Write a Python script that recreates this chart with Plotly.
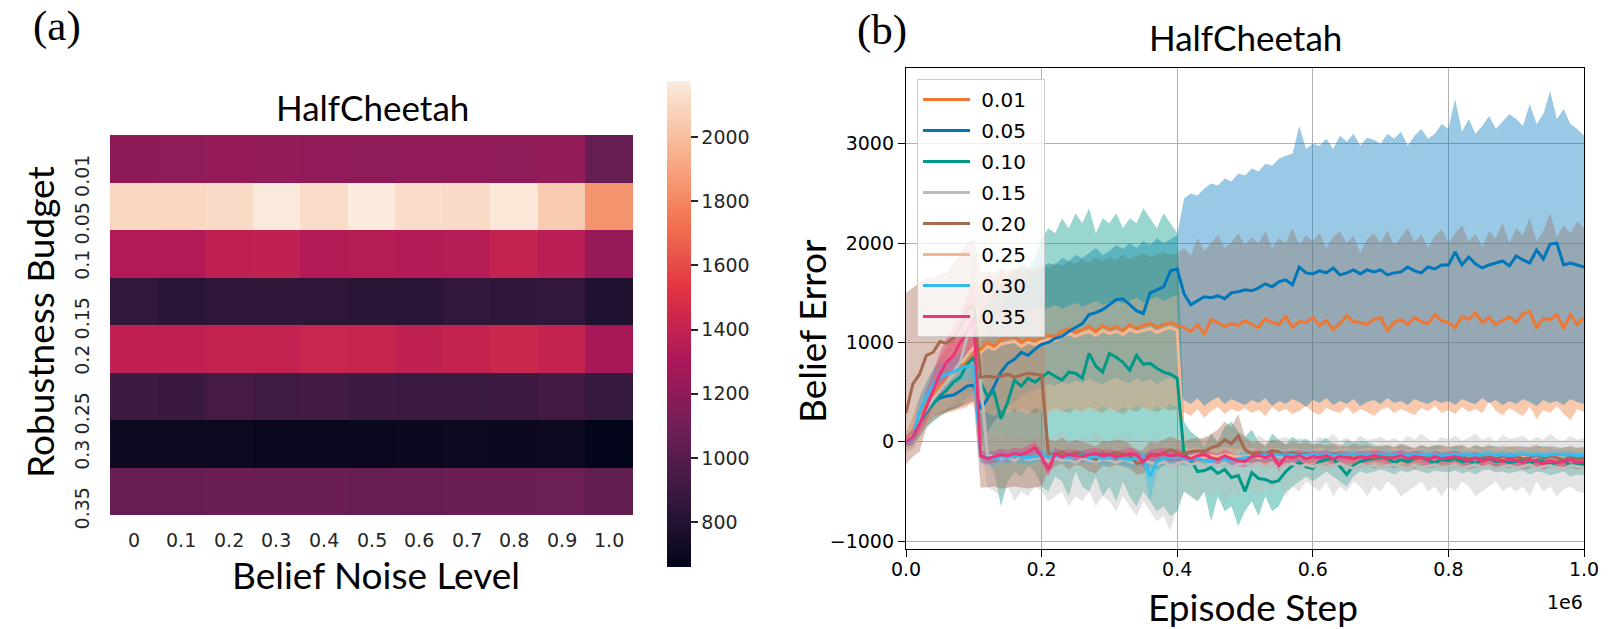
import plotly.graph_objects as go

# ---------------- Panel (a) data: heatmap ----------------
noise_levels = ["0", "0.1", "0.2", "0.3", "0.4", "0.5", "0.6", "0.7", "0.8", "0.9", "1.0"]
budgets = ["0.01", "0.05", "0.1", "0.15", "0.2", "0.25", "0.3", "0.35"]
heat_001 = [1200, 1205, 1220, 1215, 1210, 1205, 1210, 1210, 1205, 1215, 1060]
heat_005 = [2100, 2095, 2110, 2170, 2120, 2175, 2120, 2110, 2160, 2050, 1850]
heat_010 = [1330, 1330, 1380, 1385, 1340, 1345, 1340, 1345, 1400, 1360, 1230]
heat_015 = [860, 830, 855, 850, 850, 835, 830, 865, 850, 860, 790]
heat_020 = [1390, 1390, 1395, 1395, 1425, 1420, 1385, 1405, 1430, 1405, 1290]
heat_025 = [905, 890, 935, 915, 925, 905, 900, 895, 910, 925, 880]
heat_030 = [700, 700, 705, 690, 690, 690, 695, 700, 695, 705, 660]
heat_035 = [1065, 1065, 1070, 1070, 1070, 1060, 1065, 1070, 1070, 1080, 1045]
heat_rows = [heat_001, heat_005, heat_010, heat_015, heat_020, heat_025, heat_030, heat_035]
cbar_ticks = [800, 1000, 1200, 1400, 1600, 1800, 2000]

# ---------------- Panel (b) data: belief error curves ----------------
series_labels = ["0.01", "0.05", "0.10", "0.15", "0.20", "0.25", "0.30", "0.35"]
series_colors = ["#EE7733", "#0077BB", "#009988", "#BBBBBB", "#A5694F", "#F4B795", "#33BBEE", "#EE3377"]
steps = [i * 10000 for i in range(101)]
x_ticks = [0, 200000, 400000, 600000, 800000, 1000000]
x_tick_text = ["0.0", "0.2", "0.4", "0.6", "0.8", "1.0"]
y_ticks = [-1000, 0, 1000, 2000, 3000]
y_tick_text = ["\u22121000", "0", "1000", "2000", "3000"]

mean_001 = [0, 80, 250, 380, 470, 560, 620, 700, 760, 800,
            900, 930, 1000, 960, 1030, 1050, 1060, 1000, 1040, 1010,
            1050, 1070, 1060, 1110, 1140, 1100, 1130, 1160, 1110, 1170,
            1130, 1160, 1120, 1180, 1140, 1170, 1190, 1150, 1180, 1200,
            1170, 1150, 1110, 1180, 1080, 1230, 1200, 1160, 1190, 1170,
            1220, 1180, 1150, 1240, 1200, 1180, 1260, 1150, 1210, 1200,
            1250, 1170, 1220, 1130, 1190, 1270, 1210, 1200, 1180, 1230,
            1250, 1120, 1200, 1230, 1180, 1250, 1210, 1190, 1280, 1220,
            1200, 1150, 1260, 1230, 1300, 1200, 1250, 1180, 1220, 1260,
            1200, 1290, 1310, 1150, 1240, 1230, 1280, 1140, 1280, 1180, 1250]
low_001 = [-80, -60, 80, 160, 220, 260, 290, 310, 330, 350,
           420, 300, 280, 320, 290, 330, 300, 340, 310, 280,
           320, 300, 340, 310, 290, 330, 300, 350, 320, 290,
           340, 310, 280, 330, 300, 350, 320, 300, 340, 310,
           330, 300, 260, 330, 240, 310, 350, 280, 330, 300,
           340, 290, 320, 260, 350, 300, 330, 280, 310, 360,
           300, 270, 340, 310, 290, 350, 280, 330, 300, 260,
           320, 350, 290, 330, 300, 270, 340, 310, 360, 290,
           320, 280, 350, 300, 330, 290, 400, 310, 270, 340,
           300, 260, 350, 230, 320, 290, 360, 280, 220, 330, 300]
high_001 = [80, 250, 450, 600, 720, 850, 950, 1050, 1150, 1250,
            1500, 1600, 1700, 1650, 1720, 1680, 1750, 1700, 1760, 1720,
            1780, 1750, 1800, 1770, 1820, 1790, 1840, 1800, 1850, 1820,
            1860, 1830, 1880, 1840, 1870, 1900, 1860, 1890, 1910, 1880,
            1900, 1950, 1870, 2050, 1920, 2000, 2080, 1950, 2010, 2100,
            1980, 2060, 2000, 2120, 1950, 2050, 2000, 2150, 1980, 2080,
            2020, 2100, 1950, 2060, 2120, 2000, 2080, 1900, 2040, 2100,
            2000, 2130, 1980, 2060, 2150, 2010, 2090, 1950, 2070, 2140,
            2000, 2100, 2180, 2020, 2090, 1960, 2120, 2050, 2200, 2000,
            2150, 2080, 2250, 2020, 2120, 2300, 2060, 2180, 2100, 2220, 2150]

mean_005 = [0, 40, 200, 300, 390, 440, 460, 470, 510, 560,
            570, 330, 430, 560, 700, 790, 830, 900, 870, 930,
            980, 1000, 1040, 1060, 1110, 1150, 1190, 1280, 1300, 1330,
            1380, 1430, 1440, 1380, 1320, 1290, 1500, 1530, 1560, 1720,
            1740, 1490, 1380, 1420, 1460, 1450, 1470, 1440, 1500, 1510,
            1530, 1520, 1550, 1590, 1560, 1610, 1630, 1580, 1760, 1700,
            1690, 1720, 1700, 1750, 1680, 1700, 1730, 1690, 1730, 1710,
            1730, 1680, 1700, 1710, 1760, 1720, 1700, 1760, 1740, 1780,
            1780, 1910, 1780, 1860, 1790, 1750, 1780, 1800, 1820, 1770,
            1870, 1830, 1800, 1930, 1840, 1990, 2000, 1780, 1800, 1780, 1760]
low_005 = [-60, -40, 80, 170, 250, 300, 320, 330, 360, 400,
           400, 0, 100, 200, 280, 350, 400, 450, 500, 520,
           550, 580, 560, 600, 580, 620, 590, 640, 600, 580,
           620, 650, 610, 590, 640, 600, 630, 580, 620, 650,
           600, 420, 380, 440, 360, 410, 450, 380, 430, 400,
           370, 420, 390, 440, 360, 410, 380, 430, 400, 350,
           420, 390, 440, 370, 410, 380, 430, 360, 400, 420,
           380, 440, 390, 410, 370, 430, 400, 380, 420, 390,
           410, 370, 430, 400, 380, 440, 390, 420, 370, 410,
           380, 430, 400, 360, 420, 390, 410, 370, 430, 400, 380]
high_005 = [60, 120, 320, 430, 530, 580, 600, 610, 660, 720,
            740, 1000, 1100, 1250, 1350, 1450, 1500, 1600, 1650, 1700,
            1750, 1800, 1780, 1850, 1820, 1880, 1850, 1900, 1950, 1880,
            1920, 1980, 1940, 2000, 1950, 2020, 1980, 2050, 2000, 2040,
            2080, 2450, 2500, 2480, 2550, 2600, 2580, 2650, 2620, 2700,
            2680, 2750, 2720, 2800, 2780, 2850, 2880, 2900, 3180, 2950,
            3000, 2980, 3050, 2950, 3080, 3020, 3100, 2980, 3060, 3040,
            3000, 3100, 3050, 3120, 2980, 3080, 3150, 3050, 3100, 3200,
            3150, 3450, 3120, 3250, 3100, 3180, 3280, 3150, 3220, 3300,
            3250, 3180, 3400, 3200, 3300, 3530, 3250, 3350, 3200, 3150, 3080]

mean_010 = [0, 50, 190, 300, 380, 460, 520, 600, 650, 780,
            850, 600, 460, 500, 230, 400, 620, 560, 640, 600,
            650, 700, 660, 620, 700, 690, 640, 890, 760, 700,
            890, 850, 800, 720, 870, 780, 790, 740, 700, 680,
            640, -120, -180, -300, -290, -260, -320, -280, -360, -340,
            -500, -310, -370, -380, -410, -390, -300, -240, -210, -250,
            -270, -200, -180, -170, -250, -330, -240, -200, -180, -170,
            -160, -170, -210, -180, -200, -170, -160, -190, -210, -180,
            -190, -170, -200, -190, -220, -180, -170, -200, -190, -210,
            -200, -180, -220, -190, -200, -230, -210, -190, -240, -220, -230]
low_010 = [-50, -30, 50, 150, 200, 260, 300, 350, 380, 450,
           500, 0, -200, -300, -650, -400, -300, -350, -250, -300,
           -450, -500, -350, -400, -550, -300, -450, -500, -350, -550,
           -450, -600, -400, -550, -650, -500, -600, -700, -650, -750,
           -700, -500, -550, -600, -500, -800, -550, -700, -650, -850,
           -700, -600, -750, -550, -700, -650, -500, -450, -400, -350,
           -400, -350, -300, -350, -400, -450, -350, -300, -320, -300,
           -280, -300, -330, -290, -310, -280, -300, -320, -290, -300,
           -310, -290, -320, -300, -330, -290, -280, -310, -300, -320,
           -300, -290, -330, -300, -310, -340, -320, -300, -350, -330, -340]
high_010 = [50, 150, 350, 480, 560, 660, 760, 860, 950, 1100,
            1200, 1300, 1400, 1500, 1550, 1650, 1700, 1800, 1750, 1850,
            2050, 2150, 2100, 2250, 2150, 2300, 2200, 2350, 2100, 2250,
            2200, 2300, 2150, 2250, 2200, 2350, 2250, 2150, 2300, 2200,
            2100, 200, 100, 50, -50, 80, 0, 150, 200, 100,
            50, 120, 0, -50, 80, 20, -20, 50, 0, 30,
            -20, 0, 40, -30, -60, 20, -10, 10, 0, -30,
            -50, -40, -60, -30, -50, -70, -40, -60, -30, -50,
            -60, -40, -50, -70, -30, -60, -50, -40, -80, -50,
            -60, -40, -70, -50, -40, -60, -80, -50, -60, -70, -60]

mean_015 = [0, 60, 220, 330, 430, 520, 600, 700, 800, 1050,
            1350, 600, -130, -150, -170, -160, -190, -150, -180, -170,
            -160, -200, -170, -190, -180, -210, -170, -190, -200, -180,
            -190, -210, -180, -200, -220, -190, -210, -230, -200, -250,
            -220, -200, -230, -210, -250, -220, -240, -210, -260, -230,
            -210, -240, -220, -250, -230, -260, -240, -220, -250, -230,
            -250, -230, -260, -240, -220, -250, -270, -230, -250, -240,
            -260, -240, -230, -250, -270, -240, -260, -250, -230, -260,
            -250, -240, -270, -250, -230, -260, -240, -280, -250, -240,
            -260, -250, -230, -270, -250, -240, -260, -270, -240, -250, -260]
low_015 = [-100, -80, 50, 130, 200, 260, 320, 380, 450, 600,
           800, 0, -450, -500, -550, -450, -600, -500, -550, -450,
           -500, -600, -550, -500, -650, -550, -600, -500, -650, -550,
           -600, -700, -550, -650, -750, -600, -700, -800, -750, -900,
           -650, -500, -550, -600, -500, -550, -450, -600, -500, -550,
           -450, -500, -550, -450, -500, -400, -550, -450, -500, -400,
           -450, -500, -400, -550, -450, -500, -400, -450, -550, -450,
           -500, -400, -450, -550, -500, -450, -400, -500, -450, -550,
           -450, -500, -400, -450, -550, -500, -450, -400, -500, -450,
           -500, -450, -550, -400, -500, -450, -550, -480, -450, -500, -520]
high_015 = [100, 200, 400, 530, 660, 780, 880, 1020, 1150, 1500,
            1900, 1200, 100, 80, 50, 100, 20, 60, 0, 50,
            80, 20, 50, 100, 30, 0, 60, 20, 80, 40,
            0, 50, 20, 60, 0, 40, 10, 50, 20, 60,
            30, 50, 20, 0, 60, 40, 10, 50, 20, 0,
            40, 10, 60, 20, 0, 30, 50, 10, 40, 20,
            0, 50, 20, 80, 10, 40, 0, 60, 20, 30,
            50, 10, 40, 0, 60, 20, 80, 30, 0, 50,
            20, 60, 10, 40, 80, 20, 50, 0, 70, 30,
            40, 60, 10, 50, 20, 80, 30, 10, 60, 20, 40]

mean_020 = [290, 580, 680, 870, 900, 1010, 990, 1050, 1150, 1330,
            1380, 650, 660, 650, 660, 680, 650, 670, 690, 680,
            670, -120, -130, -100, -140, -110, -120, -150, -180, -110,
            -130, -110, -120, -140, -220, -200, -120, -140, -110, -80,
            -110, -120, -100, -90, -100, -60, -40, 20, -20, 60,
            -80, -120, -110, -130, -90, -100, -140, -110, -130, -120,
            -140, -130, -150, -120, -140, -160, -130, -150, -140, -160,
            -150, -140, -160, -130, -150, -170, -140, -160, -150, -140,
            -160, -150, -140, -170, -150, -160, -140, -170, -150, -160,
            -150, -170, -160, -140, -170, -150, -160, -180, -150, -170, -160]
low_020 = [-230, -150, -100, 150, 250, 280, 300, 320, 350, 380,
           400, -460, -460, -450, -470, -460, -450, -460, -470, -460,
           -450, -300, -250, -220, -280, -230, -250, -300, -320, -240,
           -260, -230, -250, -270, -330, -320, -250, -270, -240, -210,
           -240, -230, -220, -210, -220, -180, -170, -120, -150, -90,
           -200, -230, -220, -240, -200, -210, -250, -220, -240, -230,
           -250, -240, -260, -230, -250, -270, -240, -260, -250, -270,
           -260, -250, -270, -240, -260, -280, -250, -270, -260, -250,
           -270, -260, -250, -280, -260, -270, -250, -280, -260, -270,
           -260, -280, -270, -250, -280, -260, -270, -290, -260, -280, -270]
high_020 = [1500, 1550, 1600, 1650, 1650, 1700, 1700, 1800, 1900, 2000,
            2050, 1700, 1720, 1700, 1750, 1720, 1740, 1760, 1730, 1750,
            1740, 30, 0, 40, -10, 20, 0, -20, -50, 10,
            0, 20, 10, -20, -100, -80, 0, -10, 20, 50,
            20, 0, 30, 40, 30, 80, 120, 200, 150, 280,
            50, -10, 0, -30, 20, 10, -30, 0, -20, -10,
            -30, -20, -40, -10, -30, -50, -20, -40, -30, -50,
            -40, -30, -50, -20, -40, -60, -30, -50, -40, -30,
            -50, -40, -30, -60, -40, -50, -30, -60, -40, -50,
            -40, -60, -50, -30, -60, -40, -50, -70, -40, -60, -50]

mean_025 = [0, 70, 230, 340, 450, 540, 600, 680, 780, 870,
            950, 900, 960, 930, 980, 1000, 1010, 960, 1000, 980,
            1010, 1030, 1020, 1060, 1090, 1060, 1090, 1110, 1070, 1120,
            1090, 1110, 1080, 1130, 1100, 1120, 1140, 1100, 1130, 1150,
            1120, -140, -150, -130, -160, -140, -150, -130, -140, -150,
            -150, -140, -160, -150, -140, -150, -160, -140, -150, -160,
            -150, -140, -150, -160, -150, -140, -160, -150, -140, -150,
            -160, -150, -140, -150, -160, -150, -140, -160, -150, -150,
            -140, -160, -150, -140, -150, -160, -150, -140, -160, -150,
            -150, -140, -160, -150, -140, -160, -150, -150, -140, -160, -150]
low_025 = [-80, -50, 80, 170, 250, 300, 330, 350, 380, 400,
           350, 280, 300, 260, 320, 290, 330, 300, 280, 340,
           310, 290, 330, 300, 350, 320, 300, 340, 310, 360,
           330, 300, 350, 320, 370, 340, 310, 360, 330, 380,
           350, -220, -230, -210, -240, -220, -230, -210, -220, -230,
           -230, -220, -240, -230, -220, -230, -240, -220, -230, -240,
           -230, -220, -230, -240, -230, -220, -240, -230, -220, -230,
           -240, -230, -220, -230, -240, -230, -220, -240, -230, -230,
           -220, -240, -230, -220, -230, -240, -230, -220, -240, -230,
           -230, -220, -240, -230, -220, -240, -230, -230, -220, -240, -230]
high_025 = [80, 200, 380, 500, 640, 760, 860, 980, 1150, 1300,
            1600, 1250, 1300, 1280, 1320, 1300, 1350, 1320, 1300, 1360,
            1330, 1350, 1380, 1340, 1370, 1400, 1360, 1390, 1420, 1380,
            1400, 1430, 1390, 1420, 1450, 1400, 1430, 1460, 1420, 1450,
            1480, -60, -70, -50, -80, -60, -70, -50, -60, -70,
            -70, -60, -80, -70, -60, -70, -80, -60, -70, -80,
            -70, -60, -70, -80, -70, -60, -80, -70, -60, -70,
            -80, -70, -60, -70, -80, -70, -60, -80, -70, -70,
            -60, -80, -70, -60, -70, -80, -70, -60, -80, -70,
            -70, -60, -80, -70, -60, -80, -70, -70, -60, -80, -70]

mean_030 = [0, 40, 300, 450, 580, 650, 680, 700, 740, 760,
            760, -150, -160, -170, -150, -160, -140, -150, -160, -150,
            -140, -150, -140, -150, -160, -150, -140, -160, -150, -170,
            -160, -150, -170, -180, -170, -160, -350, -200, -170, -160,
            -150, -170, -180, -160, -190, -200, -170, -180, -190, -170,
            -160, -150, -140, -130, -140, -130, -140, -130, -140, -130,
            -130, -135, -125, -130, -140, -130, -125, -135, -130, -140,
            -130, -125, -135, -130, -140, -130, -125, -135, -130, -140,
            -130, -125, -135, -130, -140, -130, -125, -135, -130, -140,
            -130, -125, -135, -130, -140, -130, -125, -135, -130, -140, -135]
low_030 = [-50, -30, 150, 300, 430, 500, 540, 560, 600, 620,
           620, -220, -230, -240, -210, -230, -200, -220, -230, -210,
           -200, -220, -200, -210, -230, -220, -200, -230, -210, -240,
           -230, -220, -240, -260, -250, -240, -600, -300, -240, -230,
           -220, -240, -250, -230, -260, -270, -240, -250, -260, -240,
           -220, -210, -200, -190, -200, -190, -200, -190, -200, -190,
           -180, -190, -175, -180, -195, -180, -175, -190, -180, -195,
           -180, -175, -190, -180, -195, -180, -175, -190, -180, -195,
           -180, -175, -190, -180, -195, -180, -175, -190, -180, -195,
           -180, -175, -190, -180, -195, -180, -175, -190, -180, -195, -190]
high_030 = [50, 110, 450, 600, 730, 800, 820, 840, 880, 900,
            900, -90, -100, -110, -90, -100, -80, -90, -100, -90,
            -80, -90, -80, -90, -100, -90, -80, -100, -90, -110,
            -100, -90, -110, -120, -110, -100, -150, -120, -110, -100,
            -90, -110, -120, -100, -130, -140, -110, -120, -130, -110,
            -100, -100, -90, -80, -90, -80, -90, -80, -90, -80,
            -85, -90, -80, -85, -95, -85, -80, -90, -85, -95,
            -85, -80, -90, -85, -95, -85, -80, -90, -85, -95,
            -85, -80, -90, -85, -95, -85, -80, -90, -85, -95,
            -85, -80, -90, -85, -95, -85, -80, -90, -85, -95, -90]

mean_035 = [0, 50, 180, 350, 520, 680, 800, 870, 1000, 1100,
            1250, -140, -170, -150, -130, -140, -120, -130, -100, -60,
            -150, -280, -120, -150, -130, -140, -150, -130, -120, -140,
            -130, -150, -140, -120, -130, -200, -140, -130, -120, -140,
            -130, -150, -170, -140, -130, -160, -180, -140, -170, -190,
            -200, -150, -140, -160, -130, -240, -150, -160, -140, -170,
            -150, -160, -140, -170, -150, -160, -170, -150, -160, -140,
            -150, -170, -160, -140, -170, -150, -160, -180, -150, -170,
            -160, -150, -170, -190, -160, -200, -170, -180, -200, -170,
            -190, -210, -180, -200, -220, -190, -210, -200, -180, -210, -200]
low_035 = [-50, -20, 80, 200, 350, 480, 580, 650, 750, 850,
           950, -200, -230, -210, -190, -200, -180, -190, -160, -120,
           -210, -350, -180, -210, -190, -200, -210, -190, -180, -200,
           -190, -210, -200, -180, -190, -260, -200, -190, -180, -200,
           -190, -210, -230, -200, -190, -220, -240, -200, -230, -250,
           -260, -210, -200, -220, -190, -300, -210, -220, -200, -230,
           -210, -220, -200, -230, -210, -220, -230, -210, -220, -200,
           -210, -230, -220, -200, -230, -210, -220, -240, -210, -230,
           -220, -210, -230, -250, -220, -260, -230, -240, -260, -230,
           -250, -270, -240, -260, -280, -250, -270, -260, -240, -270, -260]
high_035 = [50, 130, 300, 520, 700, 900, 1050, 1150, 1300, 1450,
            1600, -80, -110, -90, -70, -80, -60, -70, -40, 0,
            -90, -210, -60, -90, -70, -80, -90, -70, -60, -80,
            -70, -90, -80, -60, -70, -140, -80, -70, -60, -80,
            -70, -90, -110, -80, -70, -100, -120, -80, -110, -130,
            -140, -90, -80, -100, -70, -180, -90, -100, -80, -110,
            -90, -100, -80, -110, -90, -100, -110, -90, -100, -80,
            -90, -110, -100, -80, -110, -90, -100, -120, -90, -110,
            -100, -90, -110, -130, -100, -140, -110, -120, -140, -110,
            -130, -150, -120, -140, -160, -130, -150, -140, -120, -150, -140]

means = [mean_001, mean_005, mean_010, mean_015, mean_020, mean_025, mean_030, mean_035]
lows = [low_001, low_005, low_010, low_015, low_020, low_025, low_030, low_035]
highs = [high_001, high_005, high_010, high_015, high_020, high_025, high_030, high_035]
for arr in means + lows + highs:
    assert len(arr) == len(steps), len(arr)

# ---------------- Layout helpers ----------------
W, H = 1613, 629


def fx(px):
    return px / W


def fy(py):
    return 1 - py / H


def rgba(hex_color, a):
    h = hex_color.lstrip("#")
    r, g, b = int(h[0:2], 16), int(h[2:4], 16), int(h[4:6], 16)
    return f"rgba({r},{g},{b},{a})"


rocket = [
    [0.0, "#03051A"], [0.143, "#35193E"], [0.286, "#701F57"], [0.429, "#AD1759"],
    [0.571, "#E13342"], [0.714, "#F37651"], [0.857, "#F6B48F"], [1.0, "#FAEBDD"],
]

TICK_FONT = "DejaVu Sans"
TITLE_FONT = "Lato"
NBSP = "\u00a0"

fig = go.Figure()

# Heatmap (category positions by index)
fig.add_trace(go.Heatmap(
    z=heat_rows, x=list(range(len(noise_levels))), y=list(range(len(budgets))),
    colorscale=rocket, zmin=660, zmax=2175,
    xaxis="x", yaxis="y", showscale=True, hoverinfo="skip",
    colorbar=dict(
        thickness=24, thicknessmode="pixels", len=486, lenmode="pixels",
        x=fx(667), xanchor="left", y=fy(81), yanchor="top", xpad=0, ypad=0,
        outlinewidth=0, tickvals=cbar_ticks, ticks="outside", ticklen=7, tickwidth=1.5,
        tickcolor="#262626", tickfont=dict(family=TICK_FONT, size=19, color="#262626"),
    ),
))

# Bands (drawn first)
for lab, col, lo, hi in zip(series_labels, series_colors, lows, highs):
    fig.add_trace(go.Scatter(x=steps, y=hi, mode="lines", line=dict(width=0, color=col),
                             xaxis="x2", yaxis="y2", showlegend=False, hoverinfo="skip",
                             legendgroup=lab))
    fig.add_trace(go.Scatter(x=steps, y=lo, mode="lines", line=dict(width=0, color=col),
                             fill="tonexty", fillcolor=rgba(col, 0.4),
                             xaxis="x2", yaxis="y2", showlegend=False, hoverinfo="skip",
                             legendgroup=lab))

# Lines: 0.25 underneath the rest
line_order = [5, 0, 1, 2, 3, 4, 6, 7]
for k in line_order:
    fig.add_trace(go.Scatter(
        x=steps, y=means[k], mode="lines", name=NBSP + series_labels[k] + NBSP * 2,
        line=dict(color=series_colors[k], width=3),
        xaxis="x2", yaxis="y2", legendgroup=series_labels[k], legendrank=k + 1,
    ))

annotations = []
# Heatmap x tick labels
for i, lab in enumerate(noise_levels):
    annotations.append(dict(x=i, xref="x", y=fy(540), yref="paper", text=lab,
                            showarrow=False, xanchor="center", yanchor="middle",
                            font=dict(family=TICK_FONT, size=19, color="#262626")))
# Heatmap y tick labels (rotated)
for k, lab in enumerate(budgets):
    length = 19 * (0.636 * (len(lab) - 1) + 0.318)
    annotations.append(dict(x=fx(82), xref="paper", y=k, yref="y", text=lab,
                            textangle=-90, showarrow=False, xanchor="center", yanchor="middle",
                            yshift=-(length / 2 - 4),
                            font=dict(family=TICK_FONT, size=19, color="#262626")))


def text_ann(txt, px, py, family, size, angle=0):
    return dict(x=fx(px), y=fy(py), xref="paper", yref="paper", text=txt, showarrow=False,
                xanchor="center", yanchor="middle", textangle=angle,
                font=dict(family=family, size=size, color="black"))


annotations += [
    text_ann("(a)", 57, 26, "Liberation Serif", 43),
    text_ann("(b)", 882, 30, "Liberation Serif", 43),
    text_ann("HalfCheetah", 372, 107, TITLE_FONT, 35),
    text_ann("HalfCheetah", 1245, 37, TITLE_FONT, 35),
    text_ann("Belief Noise Level", 376, 574, TITLE_FONT, 37),
    text_ann("Robustness Budget", 39, 322, TITLE_FONT, 37, -90),
    text_ann("Belief Error", 811, 331, TITLE_FONT, 37, -90),
    text_ann("Episode Step", 1253, 606, TITLE_FONT, 37),
    text_ann("1e6", 1565, 602, TICK_FONT, 19),
]

fig.update_layout(
    width=W, height=H, margin=dict(l=0, r=0, t=0, b=0, pad=0, autoexpand=False),
    paper_bgcolor="white", plot_bgcolor="white",
    annotations=annotations,
    xaxis=dict(domain=[fx(110), fx(633)], anchor="y", range=[-0.5, 10.5],
               showticklabels=False, ticks="", showgrid=False, zeroline=False, showline=False),
    yaxis=dict(domain=[fy(515), fy(135)], anchor="x", range=[7.5, -0.5],
               showticklabels=False, ticks="", showgrid=False, zeroline=False, showline=False),
    xaxis2=dict(domain=[fx(906), fx(1584)], anchor="y2", range=[0, 1000000],
                tickvals=x_ticks, ticktext=x_tick_text, ticks="outside", ticklen=7, tickwidth=1.3,
                tickcolor="black", showgrid=True, gridcolor="#b0b0b0", gridwidth=1.3,
                zeroline=False, showline=True, linecolor="black", linewidth=1.3, mirror=True,
                ticklabelstandoff=-4,
                tickfont=dict(family=TICK_FONT, size=19, color="black"), layer="above traces"),
    yaxis2=dict(domain=[fy(549), fy(68)], anchor="x2", range=[-1080, 3763],
                tickvals=y_ticks, ticktext=y_tick_text, ticks="outside", ticklen=7, tickwidth=1.3,
                tickcolor="black", showgrid=True, gridcolor="#b0b0b0", gridwidth=1.3,
                zeroline=False, showline=True, linecolor="black", linewidth=1.3, mirror=True,
                tickfont=dict(family=TICK_FONT, size=19, color="black"), layer="above traces"),
    legend=dict(x=fx(917), y=fy(79), xanchor="left", yanchor="top",
                bgcolor="rgba(255,255,255,0.8)", bordercolor="#cccccc", borderwidth=1,
                font=dict(family=TICK_FONT, size=20, color="black"),
                traceorder="grouped", tracegroupgap=2, itemwidth=47),
)

fig.write_html("out.html", config={"displayModeBar": False},
               post_script="document.body.style.margin='0';")
